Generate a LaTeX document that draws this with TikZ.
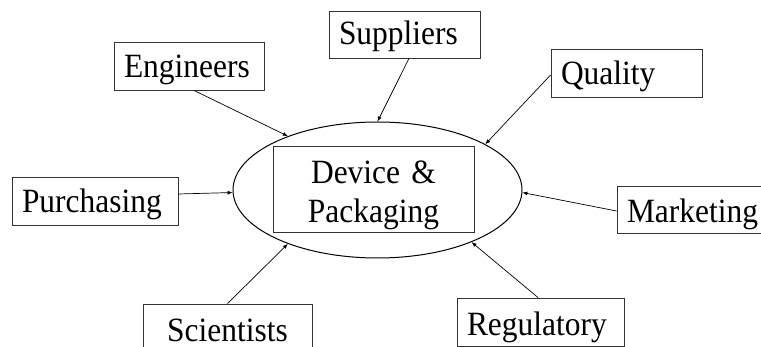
\documentclass[tikz,border=0pt]{standalone}
\usepackage{fontspec}
\setmainfont[FakeStretch=0.925]{Liberation Serif}
\usetikzlibrary{shapes.geometric,arrows.meta}
\begin{document}
\begin{tikzpicture}[x=1pt,y=-1pt,
  box/.style={draw=black!80, line width=0.9pt, inner xsep=10pt, inner ysep=0pt,
    text height=36pt, text depth=12pt, align=left, font=\fontsize{34}{39}\selectfont},
  arr/.style={line width=0.7pt, -{Latex[length=5pt,width=4pt]}}]
\useasboundingbox (0,0) rectangle (761,347);
\node[draw, ellipse, line width=1pt, minimum width=289pt, minimum height=136pt, inner sep=0pt] (ell) at (377.5,190) {};
\node[box, anchor=north, text width=181pt, align=center, text height=36.7pt, text depth=49.3pt] (dev) at (373.5,146) {Device \&\\Packaging};
\node[box, text width=130pt] (eng) at (189,66) {Engineers};
\node[box, text width=131pt, text height=34pt, text depth=13pt] (sup) at (404.5,34.5) {Suppliers};
\node[box, text width=131pt] (qual) at (626.5,73) {Quality};
\node[box, text width=146pt] (pur) at (95,201) {Purchasing};
\node[box, text width=149pt, align=center, text height=37.5pt, text depth=10.5pt] (sci) at (227.5,328) {Scientists};
\node[box, text width=147pt, text height=37.5pt, text depth=10.5pt] (reg) at (540.5,322) {Regulatory};
\node[box, text width=130pt, text height=36.5pt, text depth=10.5pt] (mkt) at (692,209.5) {Marketing};
\draw[arr] ([xshift=5pt]eng.south) -- (ell.149.6);
\draw[arr] ([xshift=4.5pt]sup.south) -- (ell.90);
\draw[arr] ([yshift=-2pt]qual.west) -- (ell.23.4);
\draw[arr] ([yshift=7pt]pur.east) -- (ell.181.6);
\draw[arr] ([yshift=-1.5pt]mkt.west) -- (ell.-1.6);
\draw[arr] ([xshift=-2.5pt]reg.north) -- (ell.-29);
\draw[arr] (sci.north) -- (ell.211.4);
\end{tikzpicture}
\end{document}
